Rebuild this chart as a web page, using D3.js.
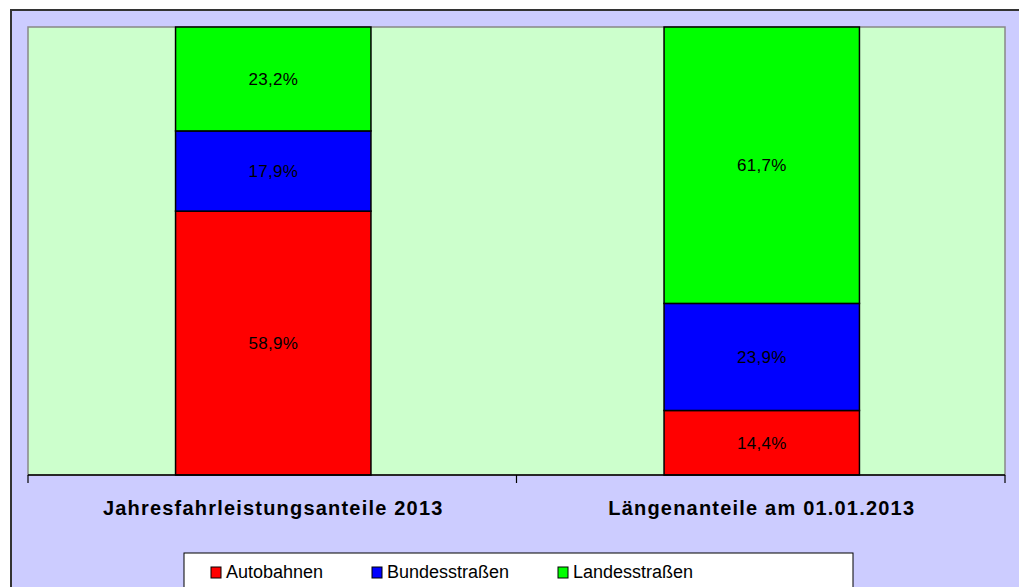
<!DOCTYPE html>
<html>
<head>
<meta charset="utf-8">
<script src="https://cdn.jsdelivr.net/npm/d3@7"></script>
<style>
  body { margin: 0; background: #fff; }
  svg text { font-family: "Liberation Sans", Arial, sans-serif; }
</style>
</head>
<body>
<div id="chart"></div>
<script>
var categories = ['Jahresfahrleistungsanteile 2013', 'Längenanteile am 01.01.2013'];
var seriesNames = ['Autobahnen', 'Bundesstraßen', 'Landesstraßen'];
var seriesColors = ['#ff0000', '#0000ff', '#00ff00'];
var autobahnen = [58.9, 14.4];
var bundesstrassen = [17.9, 23.9];
var landesstrassen = [23.2, 61.7];

var width = 1019, height = 587;
var plot = {left: 28, top: 27, right: 1005, bottom: 475};

var svg = d3.select('#chart').append('svg')
  .attr('width', width)
  .attr('height', height);

// outer frame
svg.append('rect')
  .attr('x', 11).attr('y', 10)
  .attr('width', width + 20).attr('height', height + 20)
  .style('fill', '#ccccff')
  .style('stroke', '#333')
  .style('stroke-width', 2);

svg.append('rect')
  .attr('x', plot.left).attr('y', plot.top)
  .attr('width', plot.right - plot.left).attr('height', plot.bottom - plot.top)
  .style('fill', '#ccffcc')
  .style('stroke', '#888')
  .style('stroke-width', 1.5);

var x = d3.scaleBand()
  .domain(categories)
  .range([plot.left, plot.right])
  .paddingInner(0.6)
  .paddingOuter(0.3);

var y = d3.scaleLinear().domain([0, 100]).range([plot.bottom, plot.top]);

var rows = categories.map(function(c, i) {
  return {cat: c, Autobahnen: autobahnen[i], 'Bundesstraßen': bundesstrassen[i], 'Landesstraßen': landesstrassen[i]};
});
var stacked = d3.stack().keys(seriesNames)(rows);

var layers = svg.selectAll('g.layer')
  .data(stacked)
  .enter().append('g')
  .attr('class', 'layer')
  .style('fill', function(d, i) { return seriesColors[i]; });

layers.selectAll('rect')
  .data(function(d) { return d; })
  .enter().append('rect')
  .attr('x', function(d) { return x(d.data.cat) + 1; })
  .attr('y', function(d) { return y(d[1]); })
  .attr('width', x.bandwidth())
  .attr('height', function(d) { return y(d[0]) - y(d[1]); })
  .style('stroke', '#000')
  .style('stroke-width', 1.5);

layers.selectAll('text')
  .data(function(d) { return d; })
  .enter().append('text')
  .attr('x', function(d) { return x(d.data.cat) + 1 + x.bandwidth() / 2; })
  .attr('y', function(d) { return (y(d[0]) + y(d[1])) / 2 + 6; })
  .attr('text-anchor', 'middle')
  .style('font-size', '17px')
  .style('letter-spacing', '0.3px')
  .style('fill', '#000')
  .text(function(d) { return (d[1] - d[0]).toFixed(1).replace('.', ',') + '%'; });

// x axis
var band = (plot.right - plot.left) / categories.length;
var axis = svg.append('g');
axis.append('line')
  .attr('x1', plot.left).attr('x2', plot.right)
  .attr('y1', plot.bottom).attr('y2', plot.bottom)
  .style('stroke', '#000').style('stroke-width', 1.5);
d3.range(categories.length + 1).forEach(function(i) {
  axis.append('line')
    .attr('x1', plot.left + i * band).attr('x2', plot.left + i * band)
    .attr('y1', plot.bottom).attr('y2', plot.bottom + 8)
    .style('stroke', '#000').style('stroke-width', 1.2);
});
axis.selectAll('text.cat')
  .data(categories)
  .enter().append('text')
  .attr('class', 'cat')
  .attr('x', function(d) { return x(d) + 1 + x.bandwidth() / 2; })
  .attr('y', 515)
  .attr('text-anchor', 'middle')
  .style('font-size', '20px')
  .style('font-weight', 'bold')
  .style('letter-spacing', '1.2px')
  .style('fill', '#000')
  .text(function(d) { return d; });

// legend
var legend = svg.append('g');
legend.append('rect')
  .attr('x', 184).attr('y', 553)
  .attr('width', 669).attr('height', 50)
  .style('fill', '#fff')
  .style('stroke', '#000')
  .style('stroke-width', 1);
var legendX = [211, 372, 558];
seriesNames.forEach(function(name, i) {
  legend.append('rect')
    .attr('x', legendX[i]).attr('y', 567)
    .attr('width', 10).attr('height', 11)
    .style('fill', seriesColors[i])
    .style('stroke', '#000');
  legend.append('text')
    .attr('x', legendX[i] + 15).attr('y', 578)
    .style('font-size', '18px')
    .style('fill', '#000')
    .text(name);
});
</script>
</body>
</html>
